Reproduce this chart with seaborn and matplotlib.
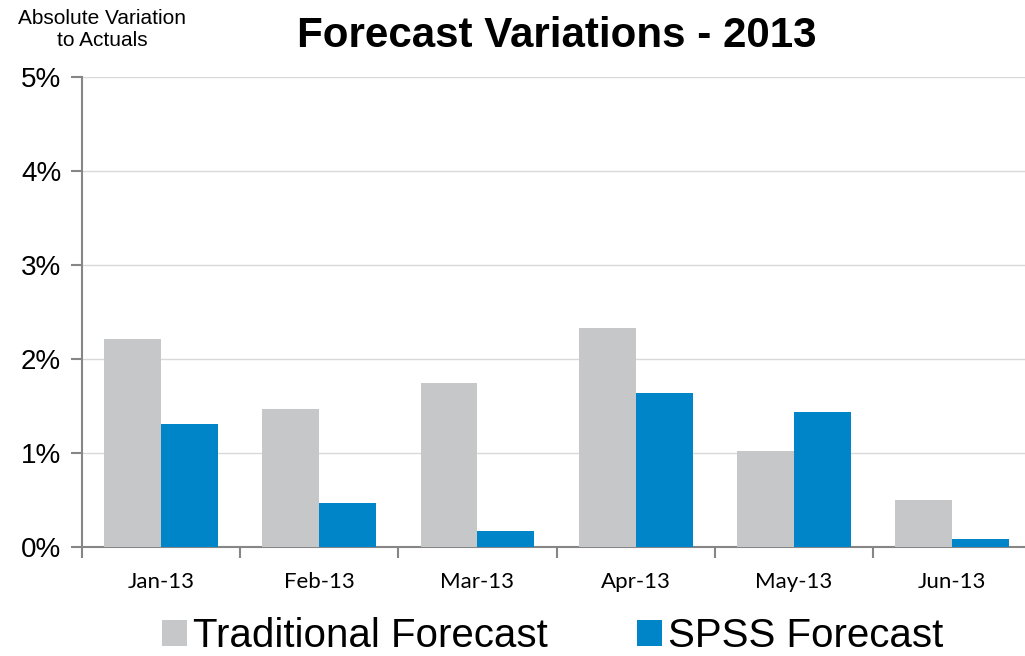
import pandas as pd
import numpy as np
import matplotlib.pyplot as plt
import seaborn as sns
from matplotlib.patches import Patch
from matplotlib.ticker import FixedLocator, PercentFormatter

# ── Data ────────────────────────────────────────────────────────────────
months      = ["Jan-13", "Feb-13", "Mar-13", "Apr-13", "May-13", "Jun-13"]
traditional = [2.21, 1.47, 1.74, 2.33, 1.02, 0.50]
spss        = [1.31, 0.47, 0.17, 1.64, 1.44, 0.09]
series      = ["Traditional Forecast", "SPSS Forecast"]
colors      = ["#C6C7C9", "#0085C8"]

df = pd.DataFrame({
    "month":  months * 2,
    "series": [series[0]] * len(months) + [series[1]] * len(months),
    "value":  traditional + spss,
})

# ── Plot ────────────────────────────────────────────────────────────────
sns.set_style("white")
plt.rcParams['font.family'] = ['Liberation Sans', 'DejaVu Sans']
plt.rcParams['text.color'] = 'black'
plt.rcParams['xtick.labelcolor'] = 'black'
plt.rcParams['ytick.labelcolor'] = 'black'

fig = plt.figure(figsize=(10.25, 6.56), dpi=100)
ax = fig.add_axes([0.080, 0.166, 0.926, 0.717])

sns.barplot(data=df, x="month", y="value", hue="series",
            palette=colors, width=0.72, gap=0, saturation=1,
            edgecolor="none", linewidth=0, ax=ax, legend=False, zorder=3)

ax.set_xlim(-0.5, len(months) - 0.5)
ax.set_ylim(0, 5)
ax.set_yticks(np.arange(0, 6, 1))
ax.yaxis.set_major_formatter(PercentFormatter(decimals=0))
ax.yaxis.grid(True, color="#D9D9D9", linewidth=1, zorder=0)
ax.xaxis.grid(False)

# category boundary ticks on x
ax.xaxis.set_minor_locator(FixedLocator(np.arange(-0.5, len(months), 1)))
ax.tick_params(axis="x", which="major", length=0, pad=18)
ax.tick_params(axis="x", which="minor", length=8, width=1.5,
               color="#868686", direction="out", bottom=True)
ax.tick_params(axis="y", length=8, width=1.5, color="#868686",
               direction="out", left=True, pad=7, labelsize=20)
for lbl in ax.get_xticklabels():
    lbl.set_family(["Lato", "DejaVu Sans"])
    lbl.set_fontsize(16)
    lbl.set_color("black")

for s in ["top", "right"]:
    ax.spines[s].set_visible(False)
for s in ["left", "bottom"]:
    ax.spines[s].set_color("#868686")
    ax.spines[s].set_linewidth(1.5)

ax.set_xlabel("")
ax.set_ylabel("")

fig.text(0.100, 0.955, "Absolute Variation\nto Actuals", ha="center",
         va="center", fontsize=15, linespacing=1.15, color="black")
fig.text(0.543, 0.945, "Forecast Variations - 2013", ha="center",
         va="center", fontsize=30.3, fontweight="bold", color="black")

handles = [Patch(facecolor=c, edgecolor="none") for c in colors]
fig.legend(handles, series, loc="center", bbox_to_anchor=(0.539, 0.03),
           ncol=2, frameon=False, fontsize=29, handlelength=0.62,
           handleheight=0.62, handletextpad=0.15, columnspacing=2.2,
           borderpad=0, borderaxespad=0, labelcolor="black")

plt.savefig("out.png", dpi=100)
